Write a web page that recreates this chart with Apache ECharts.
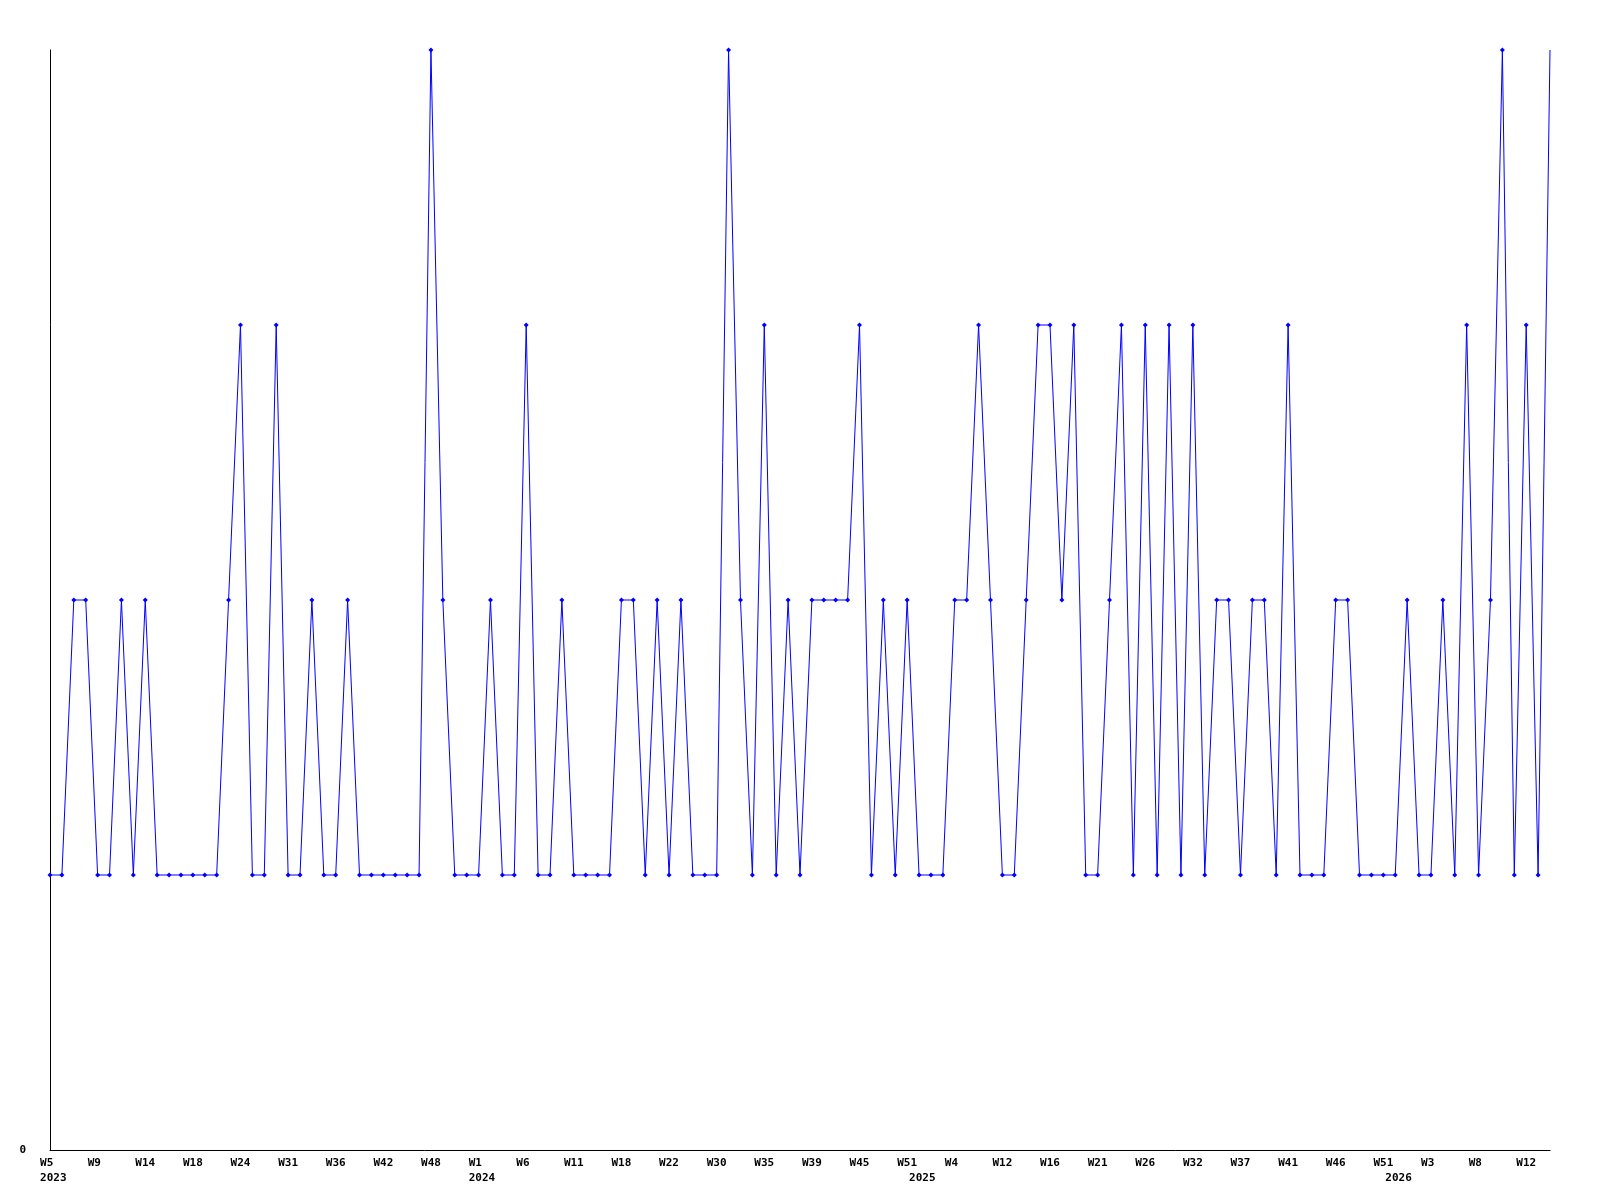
<!DOCTYPE html>
<html>
<head>
<meta charset="utf-8">
<script src="https://cdn.jsdelivr.net/npm/echarts@6/dist/echarts.min.js"></script>
<style>
html,body{margin:0;padding:0;background:#fff;}
#chart{width:1600px;height:1200px;}
</style>
</head>
<body>
<div id="chart"></div>
<script>
// Categories: weeks that have data (year + week label)
const categories = [
  '2023 W5','2023 W6','2023 W7','2023 W8','2023 W9','2023 W10','2023 W11','2023 W13','2023 W14','2023 W15',
  '2023 W16','2023 W17','2023 W18','2023 W19','2023 W20','2023 W22','2023 W24','2023 W26','2023 W28','2023 W29',
  '2023 W31','2023 W32','2023 W33','2023 W35','2023 W36','2023 W37','2023 W39','2023 W40','2023 W42','2023 W43',
  '2023 W45','2023 W47','2023 W48','2023 W49','2023 W50','2023 W52',
  '2024 W1','2024 W2','2024 W4','2024 W5','2024 W6','2024 W7','2024 W9','2024 W10','2024 W11','2024 W13',
  '2024 W15','2024 W17','2024 W18','2024 W19','2024 W20','2024 W21','2024 W22','2024 W24','2024 W26','2024 W28',
  '2024 W30','2024 W31','2024 W33','2024 W34','2024 W35','2024 W36','2024 W37','2024 W38','2024 W39','2024 W40',
  '2024 W42','2024 W43','2024 W45','2024 W46','2024 W48','2024 W50','2024 W51',
  '2025 W0','2025 W1','2025 W3','2025 W4','2025 W6','2025 W8','2025 W10','2025 W12','2025 W13','2025 W14',
  '2025 W15','2025 W16','2025 W17','2025 W19','2025 W20','2025 W21','2025 W22','2025 W23','2025 W25','2025 W26',
  '2025 W28','2025 W29','2025 W31','2025 W32','2025 W33','2025 W34','2025 W36','2025 W37','2025 W38','2025 W39',
  '2025 W40','2025 W41','2025 W43','2025 W44','2025 W45','2025 W46','2025 W47','2025 W49','2025 W50','2025 W51',
  '2026 W0','2026 W1','2026 W2','2026 W3','2026 W4','2026 W6','2026 W7','2026 W8','2026 W9','2026 W10',
  '2026 W11','2026 W12','2026 W13','2026 W14'
];

const values = [
  1,1,2,2,1,1,2,1,2,1,
  1,1,1,1,1,2,3,1,1,3,
  1,1,2,1,1,2,1,1,1,1,
  1,1,4,2,1,1,1,2,1,1,
  3,1,1,2,1,1,1,1,2,2,
  1,2,1,2,1,1,1,4,2,1,
  3,1,2,1,2,2,2,2,3,1,
  2,1,2,1,1,1,2,2,3,2,
  1,1,2,3,3,2,3,1,1,2,
  3,1,3,1,3,1,3,1,2,2,
  1,2,2,1,3,1,1,1,2,2,
  1,1,1,1,2,1,1,2,1,3,
  1,2,4,1,3,1,4
];

const yTickLabels = ['0'];
const labelEvery = 4;

const chart = echarts.init(document.getElementById('chart'), null, {renderer: 'canvas'});

function fmt(value, index) {
  const parts = String(value).split(' ');
  const year = parts[0], week = parts[1];
  const prevYear = index > 0 ? String(categories[index - 1]).split(' ')[0] : null;
  const showWeek = index % labelEvery === 0;
  const showYear = year !== prevYear;
  let w = showWeek ? week : '';
  while (showWeek && w.length < 3) w += ' ';
  if (showYear) return w + '\n ' + year;
  return w;
}

chart.setOption({
  animation: false,
  backgroundColor: '#ffffff',
  grid: {left: 50, right: 50, top: 50, bottom: 50, containLabel: false},
  xAxis: {
    type: 'category',
    data: categories,
    boundaryGap: false,
    axisLine: {show: true, lineStyle: {color: '#000', width: 1}},
    axisTick: {show: false},
    splitLine: {show: false},
    axisLabel: {
      interval: 0,
      margin: 6,
      formatter: fmt,
      fontFamily: 'DejaVu Sans Mono',
      fontWeight: 'bold',
      fontSize: 11,
      lineHeight: 15,
      color: '#000',
      align: 'center',
      verticalAlign: 'top'
    }
  },
  yAxis: {
    type: 'value',
    min: 0,
    max: 4,
    interval: 1,
    axisLine: {show: true, lineStyle: {color: '#000', width: 1}},
    axisTick: {show: false},
    splitLine: {show: false},
    axisLabel: {
      margin: 24,
      formatter: function (v) { return yTickLabels.indexOf(String(v)) >= 0 ? String(v) : ''; },
      fontFamily: 'DejaVu Sans Mono',
      fontWeight: 'bold',
      fontSize: 11,
      color: '#000'
    }
  },
  series: [{
    type: 'line',
    data: values.map(function (v, i) { return i === values.length - 1 ? {value: v, symbol: 'none'} : v; }),
    symbol: 'diamond',
    symbolSize: 5,
    showAllSymbol: true,
    clip: false,
    lineStyle: {color: '#0000ff', width: 1},
    itemStyle: {color: '#0000ff'},
    emphasis: {disabled: true}
  }]
});
</script>
</body>
</html>
